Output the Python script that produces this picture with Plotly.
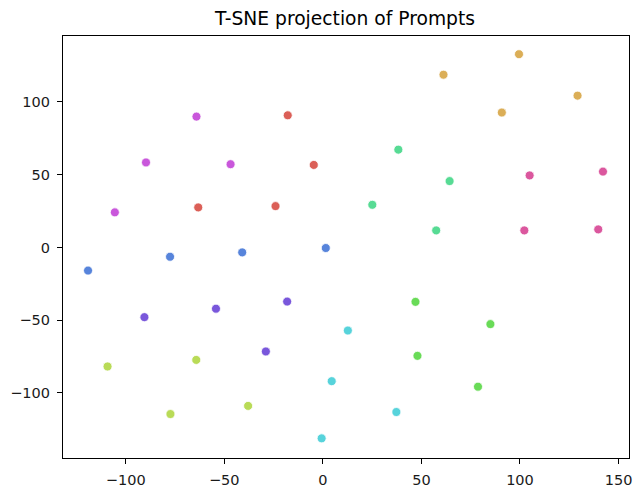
import colorsys
import plotly.graph_objects as go

# cluster order follows the hue order of a 10-colour HLS palette
clusters = ["c0", "c1", "c2", "c3", "c4", "c5", "c6", "c7", "c8", "c9"]

x_c0 = [-17.8, -4.6, -63.2, -24.0]          # red
y_c0 = [90.8, 56.7, 27.5, 28.4]
x_c1 = [99.5, 61.2, 129.2, 90.8]            # orange
y_c1 = [132.8, 118.7, 104.3, 92.7]
x_c2 = [-109.2, -64.2, -77.3, -37.9]        # lime
y_c2 = [-81.8, -77.3, -114.5, -108.9]
x_c3 = [47.0, 85.0, 48.0, 78.7]             # green
y_c3 = [-37.4, -52.7, -74.5, -95.7]
x_c4 = [38.3, 64.3, 25.1, 57.5]             # teal green
y_c4 = [67.2, 45.6, 29.3, 11.7]
x_c5 = [12.7, 4.5, -0.6, 37.3]              # cyan
y_c5 = [-57.1, -91.9, -131.2, -113.1]
x_c6 = [-119.1, -77.5, -40.9, 1.5]          # blue
y_c6 = [-15.9, -6.4, -3.4, -0.4]
x_c7 = [-90.5, -54.2, -18.1, -28.9]         # purple
y_c7 = [-47.9, -42.1, -37.2, -71.5]
x_c8 = [-64.1, -89.7, -46.8, -105.5]        # magenta
y_c8 = [89.9, 58.4, 57.2, 24.1]
x_c9 = [104.9, 142.1, 102.2, 139.7]         # pink
y_c9 = [49.5, 52.1, 11.7, 12.4]

xs = [x_c0, x_c1, x_c2, x_c3, x_c4, x_c5, x_c6, x_c7, x_c8, x_c9]
ys = [y_c0, y_c1, y_c2, y_c3, y_c4, y_c5, y_c6, y_c7, y_c8, y_c9]

x_ticks = [-100, -50, 0, 50, 100, 150]
y_ticks = [-100, -50, 0, 50, 100]


def hls_colors(n):
    out = []
    for i in range(n):
        h = (i / n + 0.01) % 1
        r, g, b = colorsys.hls_to_rgb(h, 0.6, 0.65)
        out.append("rgb(%d,%d,%d)" % (round(r * 255), round(g * 255), round(b * 255)))
    return out


colors = hls_colors(len(clusters))

fig = go.Figure()
for name, x, y, c in zip(clusters, xs, ys, colors):
    fig.add_trace(go.Scatter(
        x=x, y=y, mode="markers", name=name,
        marker=dict(color=c, size=9, line=dict(color="white", width=0.8)),
        showlegend=False,
    ))

axis_common = dict(
    showgrid=False, zeroline=False, automargin=False,
    showline=True, linecolor="black", linewidth=1.1, mirror=True,
    ticks="outside", ticklen=5, tickwidth=1.1, tickcolor="black",
    ticklabelstandoff=4,
    tickfont=dict(family="DejaVu Sans", size=14.5, color="#1a1a1a"),
)

fig.update_layout(
    width=636, height=487,
    paper_bgcolor="white", plot_bgcolor="white",
    margin=dict(l=62.5, r=6.5, t=35.5, b=28.7),
    title=dict(text="T-SNE projection of Prompts", x=0.5425, xanchor="center",
               y=1 - 18.5 / 487, yanchor="middle",
               font=dict(family="DejaVu Sans", size=18.7, color="black")),
    xaxis=dict(range=[-131.8, 155.3], tickvals=x_ticks, **axis_common),
    yaxis=dict(range=[-144.7, 145.3], tickvals=y_ticks, **axis_common),
)

fig.write_html(
    "out.html",
    config={"displayModeBar": False},
    post_script="document.body.style.margin='0';document.body.style.overflow='hidden';",
)
